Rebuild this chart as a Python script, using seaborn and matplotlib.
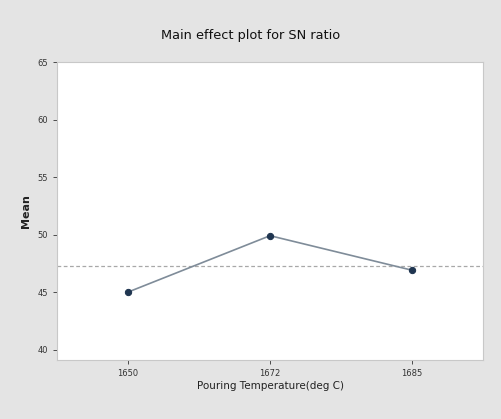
import pandas as pd
import seaborn as sns
from matplotlib import pyplot as plt

temperatures = ["1650", "1672", "1685"]
sn_means = [45.0, 49.9, 46.9]
overall_mean = sum(sn_means) / len(sn_means)

df = pd.DataFrame({"temp": temperatures, "mean": sn_means})

sns.set_style("white")
plt.rcParams["font.family"] = ["DejaVu Sans"]

fig = plt.figure(figsize=(5.01, 4.19), dpi=100, facecolor="#e4e4e4")
ax = fig.add_axes([0.114, 0.141, 0.85, 0.711])
ax.set_facecolor("white")

sns.lineplot(data=df, x="temp", y="mean", ax=ax, color="#7f8c99", linewidth=1.2,
             marker="o", markersize=4.5, markerfacecolor="#1f3550", markeredgecolor="#1f3550")
ax.axhline(overall_mean, color="#a8a8a8", linestyle=(0, (3, 2)), linewidth=0.9, zorder=0)

ax.set_xlim(-0.5, 2.5)
ax.set_ylim(39.1, 65)
ax.set_yticks([40, 45, 50, 55, 60, 65])
ax.tick_params(axis="both", labelsize=6, colors="#333333", length=3, width=0.6, direction="out")
ax.tick_params(axis="both", which="both", bottom=True, left=True)
for s in ax.spines.values():
    s.set_color("#c8c8c8")
    s.set_linewidth(0.8)

ax.set_xlabel("Pouring Temperature(deg C)", fontsize=7.5, color="#222222", labelpad=2)
ax.set_ylabel("Mean", fontsize=8, fontweight="bold", color="#222222", labelpad=5)
fig.text(0.5, 0.915, "Main effect plot for SN ratio", ha="center", va="center",
         fontsize=9.3, color="#111111")

fig.savefig("out.png", dpi=100, facecolor=fig.get_facecolor())
